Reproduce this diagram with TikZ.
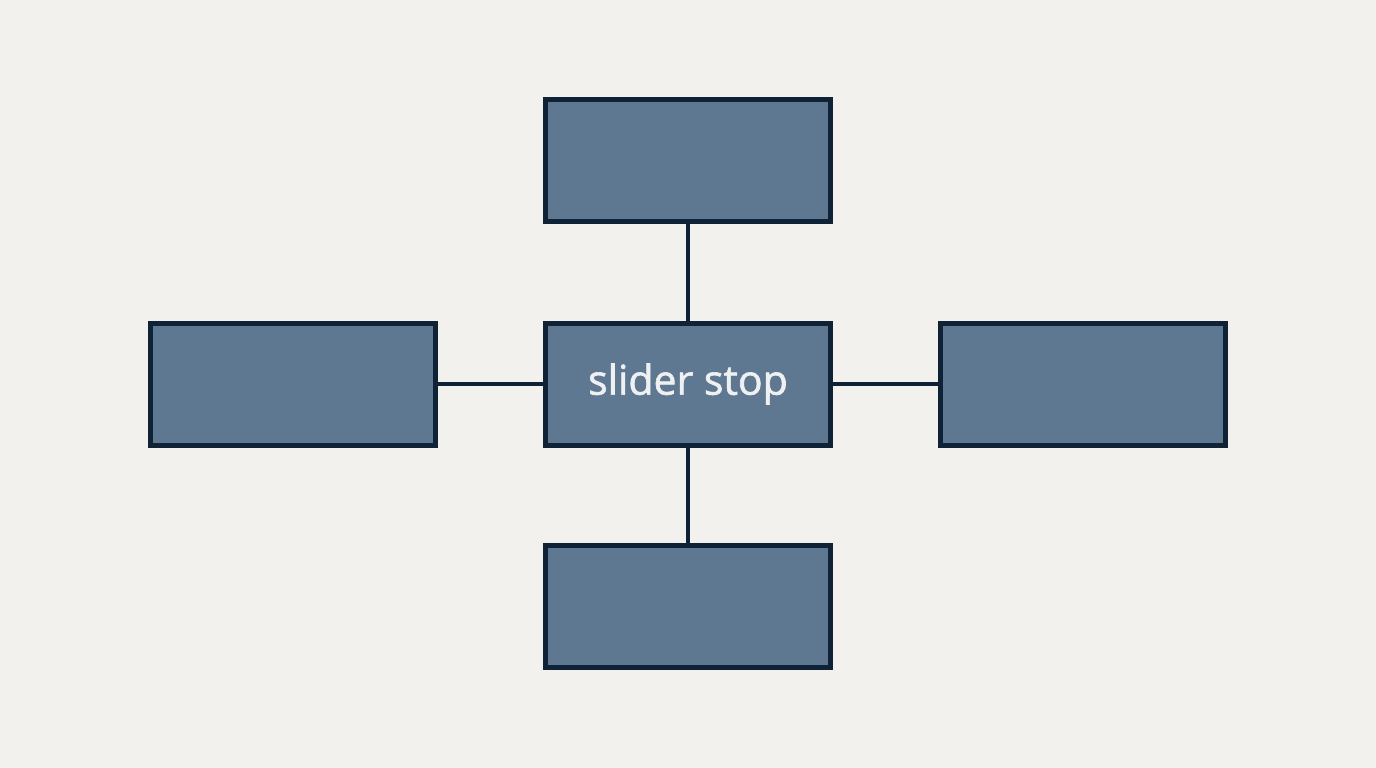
\documentclass[tikz,border=0pt]{standalone}
\usepackage{fontspec}
\setmainfont{Open Sans}
\newfontfamily\lblfont[FakeBold=1.5]{Open Sans}
\definecolor{bg}{HTML}{F2F1ED}
\definecolor{boxfill}{HTML}{5F7891}
\definecolor{boxline}{HTML}{0F2236}
\definecolor{txt}{HTML}{EEF0F2}
\begin{document}
\begin{tikzpicture}[x=1pt,y=-1pt,
  blk/.style={draw=boxline,fill=boxfill,line width=5pt,minimum width=285pt,minimum height=122pt,inner sep=0pt,outer sep=0pt},
  link/.style={draw=boxline,line width=4pt}]
\fill[bg] (0,0) rectangle (1376,768);
\useasboundingbox (0,0) rectangle (1376,768);
\node[blk] (top) at (688,160.5) {};
\node[blk,text=txt,font=\lblfont\fontsize{41}{48}\selectfont] (mid) at (688,384) {\raisebox{-2pt}{slider stop}};
\node[blk] (left) at (293,384) {};
\node[blk] (right) at (1083,384) {};
\node[blk] (bot) at (688,606.5) {};
\draw[link] (top) -- (mid);
\draw[link] (mid) -- (bot);
\draw[link] (left) -- (mid);
\draw[link] (mid) -- (right);
\end{tikzpicture}
\end{document}
